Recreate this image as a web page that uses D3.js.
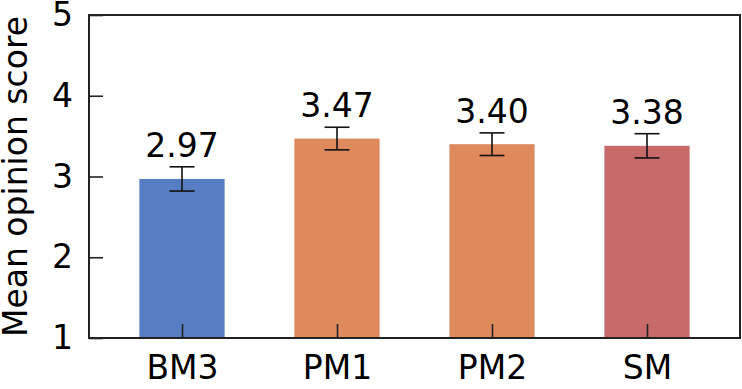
<!DOCTYPE html>
<html><head><meta charset="utf-8">
<script src="https://cdn.jsdelivr.net/npm/d3@7"></script>
<style>html,body{margin:0;padding:0;background:#fff;}svg{display:block;font-family:"DejaVu Sans",sans-serif;}</style>
</head><body>
<svg id="c" width="742" height="389"></svg>
<script>
const categories = ["BM3", "PM1", "PM2", "SM"];
const means = [2.97, 3.47, 3.40, 3.38];
const errors = [0.15, 0.14, 0.14, 0.15];
const labels = ["2.97", "3.47", "3.40", "3.38"];
const colors = ["#577dc2", "#de8a5c", "#de8a5c", "#c86a6a"];
const yTicks = [1, 2, 3, 4, 5];

const FS = 33;
const svg = d3.select("#c");
const L = 89, R = 740, T = 15, B = 338;
const x = d3.scaleLinear().domain([-0.6, 3.6]).range([L, R]);
const y = d3.scaleLinear().domain([1, 5]).range([B, T]);
const bw = 0.55;

const g = svg.append("g");
g.selectAll("rect.bar").data(categories).join("rect")
  .attr("class", "bar")
  .attr("x", (d, i) => x(i - bw / 2))
  .attr("width", x(bw) - x(0))
  .attr("y", (d, i) => y(means[i]))
  .attr("height", (d, i) => y(1) - y(means[i]))
  .attr("fill", (d, i) => colors[i]);

// error bars
const eb = g.selectAll("g.err").data(categories).join("g").attr("class", "err")
  .attr("stroke", "#111").attr("stroke-width", 1.6);
eb.append("line").attr("x1", (d, i) => x(i)).attr("x2", (d, i) => x(i))
  .attr("y1", (d, i) => y(means[i] - errors[i])).attr("y2", (d, i) => y(means[i] + errors[i]));
eb.append("line").attr("x1", (d, i) => x(i) - 12.5).attr("x2", (d, i) => x(i) + 12.5)
  .attr("y1", (d, i) => y(means[i] + errors[i])).attr("y2", (d, i) => y(means[i] + errors[i]));
eb.append("line").attr("x1", (d, i) => x(i) - 12.5).attr("x2", (d, i) => x(i) + 12.5)
  .attr("y1", (d, i) => y(means[i] - errors[i])).attr("y2", (d, i) => y(means[i] - errors[i]));

// value labels
g.selectAll("text.val").data(labels).join("text").attr("class", "val")
  .attr("x", (d, i) => x(i)).attr("y", (d, i) => y(means[i] + errors[i]) - 10)
  .attr("text-anchor", "middle").attr("font-size", FS).attr("fill", "#000").text(d => d);

// axes
const yAxis = d3.axisLeft(y).tickValues(yTicks).tickFormat(d3.format("d")).tickSizeInner(-14).tickSizeOuter(0).tickPadding(16);
const ya = svg.append("g").attr("transform", `translate(${L},0)`).call(yAxis);
ya.select(".domain").remove();
ya.selectAll("line").attr("stroke", "#222").attr("stroke-width", 1.6);
ya.selectAll("text").attr("font-size", FS).attr("fill", "#000").attr("font-family", "DejaVu Sans");

const xAxis = d3.axisBottom(x).tickValues(d3.range(categories.length)).tickFormat(i => categories[i]).tickSizeInner(-14).tickSizeOuter(0).tickPadding(18);
const xa = svg.append("g").attr("transform", `translate(0,${B})`).call(xAxis);
xa.select(".domain").remove();
xa.selectAll("line").attr("stroke", "#222").attr("stroke-width", 1.6);
xa.selectAll("text").attr("font-size", FS).attr("fill", "#000").attr("font-family", "DejaVu Sans");

// frame
svg.append("rect").attr("x", L).attr("y", T).attr("width", R - L).attr("height", B - T)
  .attr("fill", "none").attr("stroke", "#222").attr("stroke-width", 2);

// y title
svg.append("text").attr("transform", `translate(27,${(T + B) / 2}) rotate(-90)`)
  .attr("text-anchor", "middle").attr("font-size", FS).attr("fill", "#000").text("Mean opinion score");
</script>
</body></html>
